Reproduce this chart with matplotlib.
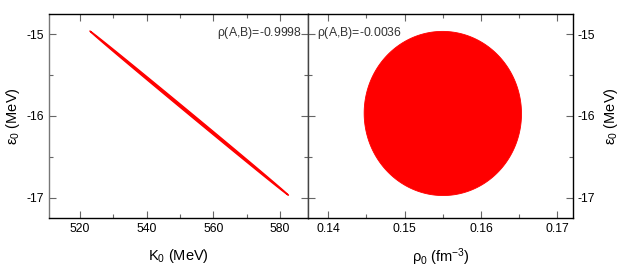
import matplotlib
matplotlib.use("Agg")
import matplotlib.pyplot as plt
import numpy as np
from matplotlib.ticker import MultipleLocator

plt.rcParams['font.family'] = ['Liberation Sans', 'DejaVu Sans']
plt.rcParams['mathtext.default'] = 'regular'
plt.rcParams['axes.unicode_minus'] = False

# error ellipses: centre, half-extent, correlation
k0_center, k0_half = 552.75, 29.75
rho0_center, rho0_half = 0.1550, 0.0103
eps_center_left, eps_half_left = -15.965, 1.005
eps_center_right, eps_half_right = -15.969, 1.006
corr_left = -0.9998
corr_right = -0.0036

left_xticks = [520, 540, 560, 580]
right_xticks = [0.14, 0.15, 0.16, 0.17]
yticks = [-15, -16, -17]


def ellipse_outline(cx, ax_half, cy, ay_half, rho, n=400):
    t = np.linspace(0, 2 * np.pi, n)
    x = cx + ax_half * np.cos(t)
    y = cy + ay_half * (rho * np.cos(t) + np.sqrt(1 - rho ** 2) * np.sin(t))
    return x, y


fig = plt.figure(figsize=(6.23, 2.68), dpi=100)
ax1 = fig.add_axes([49 / 623, 1 - 218 / 268, 259 / 623, 204 / 268])
ax2 = fig.add_axes([308 / 623, 1 - 218 / 268, 265 / 623, 204 / 268])

x, y = ellipse_outline(k0_center, k0_half, eps_center_left, eps_half_left, corr_left)
ax1.fill(x, y, color='#ff0000', lw=1.0, ec='#ff0000')
x, y = ellipse_outline(rho0_center, rho0_half, eps_center_right, eps_half_right, corr_right)
ax2.fill(x, y, color='#ff0000', lw=0.6, ec='#ff0000')

ax1.set_xlim(510.7, 588.4)
ax2.set_xlim(0.13735, 0.17204)
for ax in (ax1, ax2):
    ax.set_ylim(-17.25, -14.75)
    ax.set_yticks(yticks)
    ax.yaxis.set_minor_locator(MultipleLocator(0.5))
    ax.tick_params(which='both', direction='in', top=True, right=True,
                   labelsize=8.8, color='#666666', width=0.8)
    ax.tick_params(which='major', length=5)
    ax.tick_params(which='minor', length=3)
    for s in ax.spines.values():
        s.set_linewidth(1.0)

ax1.set_xticks(left_xticks)
ax1.xaxis.set_minor_locator(MultipleLocator(10))
ax1.set_yticklabels([str(v) for v in yticks])
ax1.spines['left'].set_color('#777777')
ax1.spines['right'].set_color('#444444')

ax2.set_xticks(right_xticks)
ax2.set_xticklabels(['0.14', '0.15', '0.16', '0.17'])
ax2.xaxis.set_minor_locator(MultipleLocator(0.005))
ax2.yaxis.tick_right()
ax2.tick_params(which='both', left=True, right=True)
ax2.set_yticklabels([str(v) for v in yticks])
ax2.yaxis.set_label_position('right')
ax2.spines['left'].set_color('#444444')

ax1.set_xlabel('K$_0$ (MeV)', fontsize=10.5, labelpad=9)
ax1.set_ylabel(r'$\epsilon_0$ (MeV)', fontsize=10.5, labelpad=3)
ax2.set_xlabel(r'$\rho_0$ (fm$^{-3}$)', fontsize=10.5, labelpad=8)
ax2.set_ylabel(r'$\epsilon_0$ (MeV)', fontsize=10.5, labelpad=5)

ax1.text(0.975, 0.905, r'$\rho$(A,B)=%.4f' % corr_left, transform=ax1.transAxes,
         ha='right', va='center', fontsize=8.8, color='#333333')
ax2.text(0.035, 0.905, r'$\rho$(A,B)=%.4f' % corr_right, transform=ax2.transAxes,
         ha='left', va='center', fontsize=8.8, color='#333333')

fig.savefig('out.png', dpi=100)
